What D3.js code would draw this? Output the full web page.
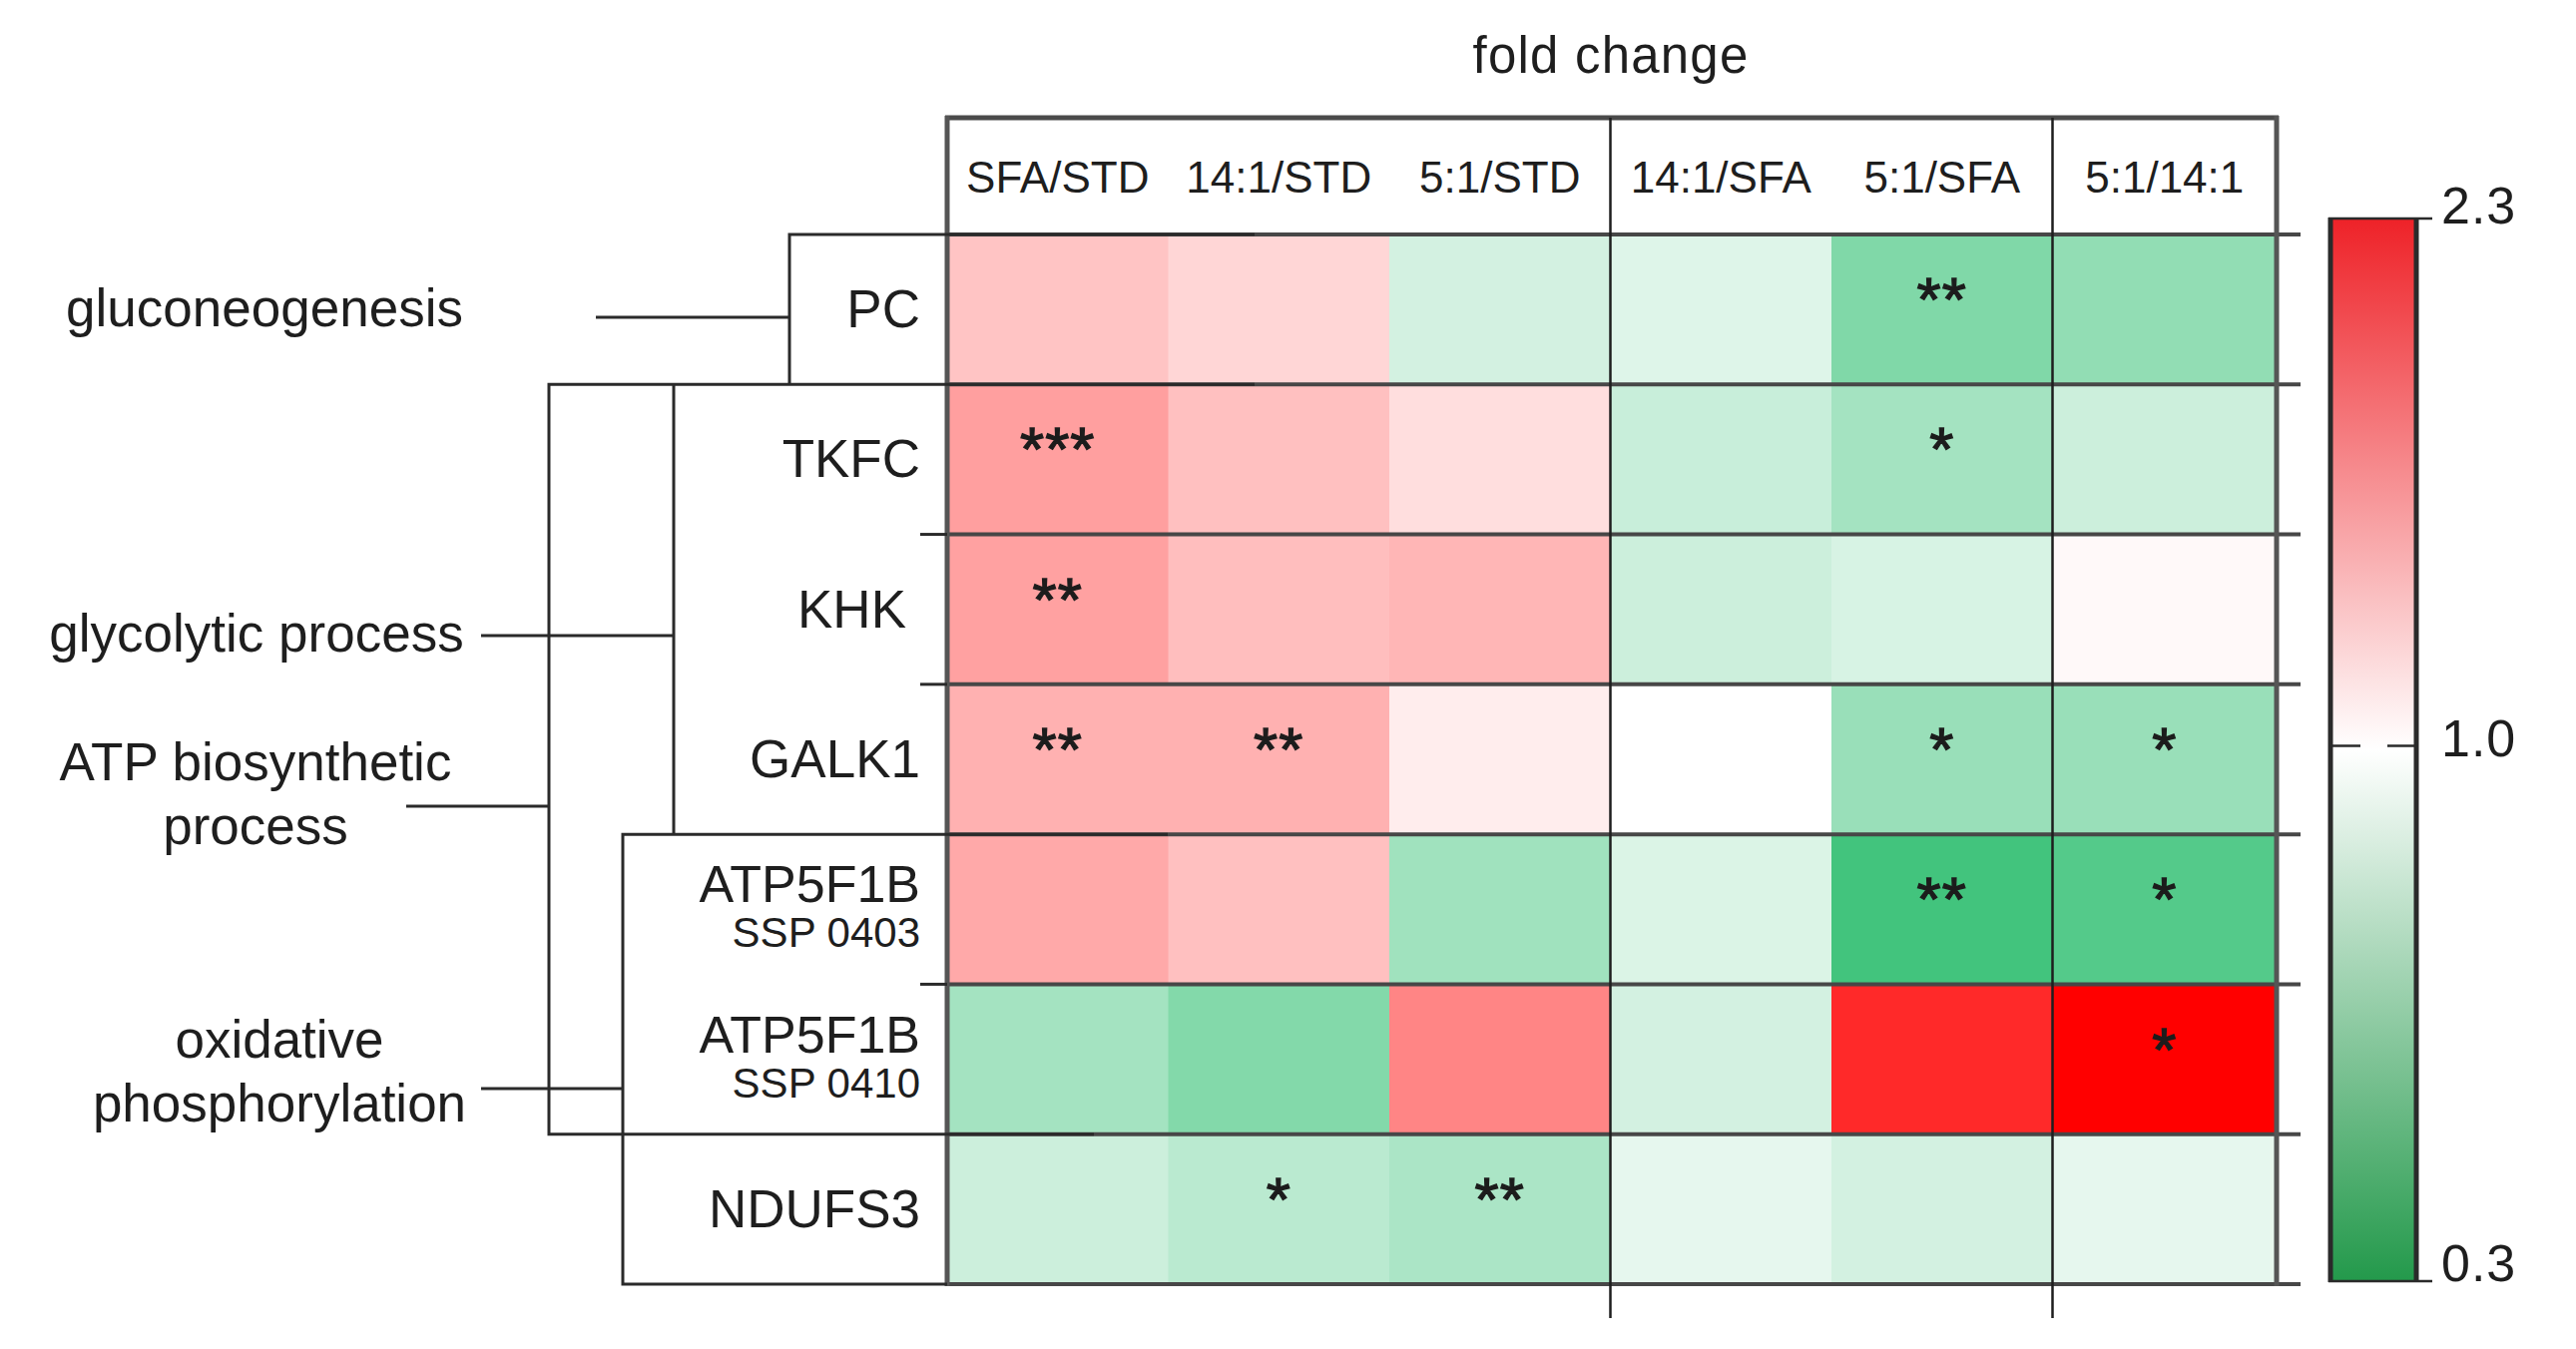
<!DOCTYPE html>
<html>
<head>
<meta charset="utf-8">
<script src="https://cdn.jsdelivr.net/npm/d3@7/dist/d3.min.js"></script>
<style>
  html, body { margin: 0; padding: 0; background: #ffffff; }
  svg { display: block; }
  text { font-family: "Liberation Sans", Arial, sans-serif; fill: #1e1e1e; }
</style>
</head>
<body>
<svg id="chart" width="2581" height="1352"></svg>
<script>
// ---------------- DATA ----------------
const columns = ["SFA/STD", "14:1/STD", "5:1/STD", "14:1/SFA", "5:1/SFA", "5:1/14:1"];
const rowIds = ["PC", "TKFC", "KHK", "GALK1", "ATP5F1B_0403", "ATP5F1B_0410", "NDUFS3"];
const rowMainLabels = ["PC", "TKFC", "KHK", "GALK1", "ATP5F1B", "ATP5F1B", "NDUFS3"];
const rowSubLabels = ["", "", "", "", "SSP 0403", "SSP 0410", ""];

// fold change per protein spot (order = columns)
const foldPC      = [1.30, 1.21, 0.88, 0.91, 0.65, 0.70];
const foldTKFC    = [1.49, 1.32, 1.17, 0.85, 0.75, 0.86];
const foldKHK     = [1.48, 1.33, 1.37, 0.86, 0.89, 1.03];
const foldGALK1   = [1.40, 1.40, 1.09, 1.00, 0.72, 0.72];
const foldATP0403 = [1.44, 1.32, 0.74, 0.90, 0.48, 0.53];
const foldATP0410 = [0.75, 0.66, 1.62, 0.88, 2.09, 2.30];
const foldNDUFS3  = [0.86, 0.81, 0.77, 0.93, 0.88, 0.93];

// significance marks (order = columns)
const sigPC      = ["", "", "", "", "**", ""];
const sigTKFC    = ["***", "", "", "", "*", ""];
const sigKHK     = ["**", "", "", "", "", ""];
const sigGALK1   = ["**", "**", "", "", "*", "*"];
const sigATP0403 = ["", "", "", "", "**", "*"];
const sigATP0410 = ["", "", "", "", "", "*"];
const sigNDUFS3  = ["", "*", "**", "", "", ""];

const colorDomain = [0.3, 1.0, 2.3];
const legendTicks = [2.3, 1.0, 0.3];
const legendTickLabels = ["2.3", "1.0", "0.3"];

const processLabels = [
  { lines: ["gluconeogenesis"] },
  { lines: ["glycolytic process"] },
  { lines: ["ATP biosynthetic", "process"] },
  { lines: ["oxidative", "phosphorylation"] }
];
const titleText = "fold change";

// ---------------- BUILD ----------------
const foldRows = [foldPC, foldTKFC, foldKHK, foldGALK1, foldATP0403, foldATP0410, foldNDUFS3];
const sigRows = [sigPC, sigTKFC, sigKHK, sigGALK1, sigATP0403, sigATP0410, sigNDUFS3];
const cells = [];
rowIds.forEach((r, i) => columns.forEach((c, j) => {
  cells.push({ row: r, col: c, value: foldRows[i][j], sig: sigRows[i][j] });
}));

const svg = d3.select("#chart");

const plotRight = 2281;
const x = d3.scaleBand().domain(columns).range([949, 2278]);
const y = d3.scaleBand().domain(rowIds).range([235, 1287]);
const lastCol = columns[columns.length - 1];
const cellW = c => c === lastCol ? plotRight - x(c) : x.bandwidth();

const greenEnd = "#00b050", midWhite = "#ffffff", redEnd = "#ff0000";
const color = d3.scaleDiverging()
  .domain(colorDomain)
  .interpolator(t => t < 0.5
    ? d3.interpolateRgb(greenEnd, midWhite)(t * 2)
    : d3.interpolateRgb(midWhite, redEnd)((t - 0.5) * 2))
  .clamp(true);

// heatmap cells
svg.append("g").selectAll("rect").data(cells).join("rect")
  .attr("x", d => x(d.col))
  .attr("y", d => y(d.row))
  .attr("width", d => cellW(d.col) + 0.5)
  .attr("height", y.bandwidth() + 0.5)
  .attr("fill", d => color(d.value));

// grid lines
const grid = svg.append("g").attr("fill", "none");
const rowEdges = rowIds.map(r => y(r)).concat([y.range()[1]]);
rowEdges.forEach(yy => {
  grid.append("line").attr("x1", 949).attr("x2", 2305).attr("y1", yy).attr("y2", yy)
    .attr("stroke", "#474747").attr("stroke-width", 4);
});
// header top
grid.append("line").attr("x1", 947).attr("x2", plotRight + 2).attr("y1", 118).attr("y2", 118)
  .attr("stroke", "#4a4a4a").attr("stroke-width", 5);
// outer left/right borders
[x.range()[0], plotRight].forEach(xx => {
  grid.append("line").attr("x1", xx).attr("x2", xx).attr("y1", 116).attr("y2", 1289)
    .attr("stroke", "#555").attr("stroke-width", 5);
});
// group dividers
["14:1/SFA", "5:1/14:1"].forEach(c => {
  grid.append("line").attr("x1", x(c)).attr("x2", x(c)).attr("y1", 118).attr("y2", 1321)
    .attr("stroke", "#1e1e1e").attr("stroke-width", 2.5);
});

// hierarchy lines (left)
const lines = svg.append("g").attr("fill", "none").attr("stroke", "#2a2a2a").attr("stroke-width", 3);
const yTop = r => y(r), yBot = r => y(r) + y.bandwidth();
// PC box + gluconeogenesis
lines.append("path").attr("d", `M1257,${yTop("PC")}H791V${yBot("PC")}`);
lines.append("path").attr("d", "M597,318H791");
// ATP biosynthetic bracket
lines.append("path").attr("d", `M1257,${yTop("TKFC")}H550V${yBot("ATP5F1B_0410")}H1096`);
lines.append("path").attr("d", "M407,808H550");
// glycolytic bracket
lines.append("path").attr("d", `M675,${yTop("TKFC")}V${yBot("GALK1")}`);
lines.append("path").attr("d", "M482,637H675");
// oxidative phosphorylation box
lines.append("path").attr("d", `M1170,${yTop("ATP5F1B_0403")}H624V${yBot("NDUFS3")}H949`);
lines.append("path").attr("d", "M482,1091H624");
// short row separators next to labels
["KHK", "GALK1", "ATP5F1B_0410"].forEach(r => {
  lines.append("path").attr("d", `M922,${yTop(r)}H949`);
});

// title
svg.append("text").attr("x", 1614).attr("y", 73).attr("text-anchor", "middle")
  .attr("font-size", 51).attr("letter-spacing", 1.2).text(titleText);

// column headers
svg.append("g").selectAll("text").data(columns).join("text")
  .attr("x", d => x(d) + cellW(d) / 2)
  .attr("y", 193)
  .attr("text-anchor", "middle")
  .attr("font-size", 44)
  .text(d => d);

// row labels
const rl = svg.append("g");
rowIds.forEach((r, i) => {
  const cy = y(r) + y.bandwidth() / 2;
  if (rowSubLabels[i]) {
    rl.append("text").attr("x", 922).attr("y", cy - 7).attr("text-anchor", "end")
      .attr("font-size", 52).text(rowMainLabels[i]);
    rl.append("text").attr("x", 922).attr("y", cy + 38).attr("text-anchor", "end")
      .attr("font-size", 42).text(rowSubLabels[i]);
  } else {
    rl.append("text").attr("x", r === "KHK" ? 908 : 922).attr("y", cy + 18).attr("text-anchor", "end")
      .attr("font-size", 53).text(rowMainLabels[i]);
  }
});

// process labels
const procPos = [
  { cx: 265, base: [327] },
  { cx: 257, base: [653] },
  { cx: 256, base: [782, 846] },
  { cx: 280, base: [1060, 1124] }
];
processLabels.forEach((p, i) => {
  p.lines.forEach((ln, k) => {
    svg.append("text").attr("x", procPos[i].cx).attr("y", procPos[i].base[k])
      .attr("text-anchor", "middle").attr("font-size", 53).text(ln);
  });
});

// significance stars
svg.append("g").selectAll("text").data(cells.filter(d => d.sig)).join("text")
  .attr("x", d => x(d.col) + cellW(d.col) / 2)
  .attr("y", d => y(d.row) + y.bandwidth() / 2 + 11)
  .attr("text-anchor", "middle")
  .attr("font-size", 62)
  .attr("letter-spacing", 1)
  .style("fill", "#1c1c1c")
  .style("stroke", "#1c1c1c")
  .style("stroke-width", 1.3)
  .text(d => d.sig);

// ---------------- COLOR BAR ----------------
const legendColors = ["#23994b", "#ffffff", "#ee2228"];
const lx0 = 2335, lx1 = 2421;
const ly = d3.scaleLinear().domain(colorDomain).range([1284, 751.5, 219]);
const defs = svg.append("defs");
const grad = defs.append("linearGradient").attr("id", "cbar")
  .attr("x1", 0).attr("x2", 0).attr("y1", 1).attr("y2", 0);
colorDomain.forEach((v, i) => {
  grad.append("stop")
    .attr("offset", (ly.range()[0] - ly(v)) / (ly.range()[0] - ly.range()[2]))
    .attr("stop-color", legendColors[i]);
});
svg.append("rect").attr("x", lx0).attr("y", ly(2.3)).attr("width", lx1 - lx0)
  .attr("height", ly(0.3) - ly(2.3)).attr("fill", "url(#cbar)");
const lg = svg.append("g").attr("fill", "none").attr("stroke", "#2a2a2a");
lg.append("line").attr("x1", lx0).attr("x2", lx0).attr("y1", ly(2.3) - 1).attr("y2", ly(0.3) + 1).attr("stroke-width", 5);
lg.append("line").attr("x1", lx1).attr("x2", lx1).attr("y1", ly(2.3) - 1).attr("y2", ly(0.3) + 1).attr("stroke-width", 5);
[2.3, 0.3].forEach(v => {
  lg.append("line").attr("x1", lx0 - 2).attr("x2", lx1 + 16).attr("y1", ly(v)).attr("y2", ly(v)).attr("stroke-width", 2.5);
});
// dashed mid line
lg.append("line").attr("x1", lx0 + 2).attr("x2", lx1 - 2).attr("y1", ly(1) - 4).attr("y2", ly(1) - 4)
  .attr("stroke-width", 2.5).attr("stroke-dasharray", "28,27,30");

svg.append("g").selectAll("text").data(legendTicks).join("text")
  .attr("x", 2446)
  .attr("y", (d, i) => ly(d) + (i === 0 ? 5 : i === 1 ? 6 : 0))
  .attr("font-size", 52)
  .attr("letter-spacing", 1)
  .text((d, i) => legendTickLabels[i]);
</script>
</body>
</html>
